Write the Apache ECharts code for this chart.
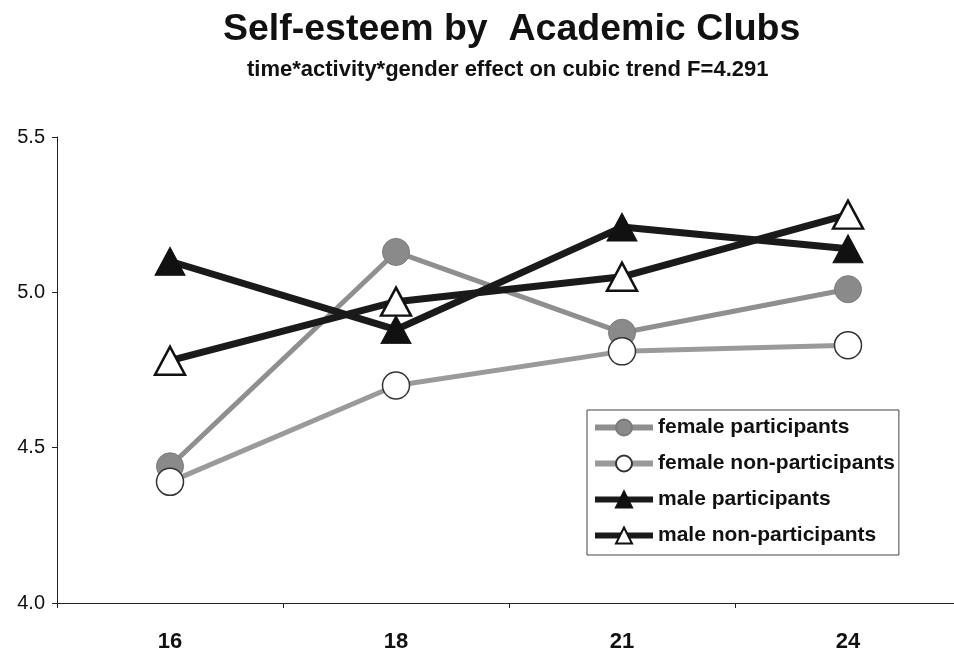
<!DOCTYPE html>
<html>
<head>
<meta charset="utf-8">
<script src="https://cdn.jsdelivr.net/npm/echarts@6/dist/echarts.min.js"></script>
<style>
html,body{margin:0;padding:0;background:#fff;}
#c{width:954px;height:657px;}
</style>
</head>
<body>
<div id="c"></div>
<script>
var categories = ['16', '18', '21', '24'];
var femaleParticipants = [4.44, 5.13, 4.87, 5.01];
var femaleNonParticipants = [4.39, 4.70, 4.81, 4.83];
var maleParticipants = [5.10, 4.88, 5.21, 5.14];
var maleNonParticipants = [4.78, 4.97, 5.05, 5.25];
var yTicks = [4.0, 4.5, 5.0, 5.5];

var chart = echarts.init(document.getElementById('c'), null, {renderer: 'canvas'});
var font = 'Liberation Sans, Arial, sans-serif';

function s(name, data, lineColor, lineWidth, symbol, size, fill, border, bw) {
  return {
    name: name, type: 'line', data: data,
    symbol: symbol, symbolSize: size,
    lineStyle: {color: lineColor, width: lineWidth},
    itemStyle: {color: fill, borderColor: border, borderWidth: bw},
    emphasis: {disabled: true},
    animation: false
  };
}

chart.setOption({
  animation: false,
  backgroundColor: '#ffffff',
  title: [
    {text: 'Self-esteem by  Academic Clubs', left: 218, top: 6,
     textStyle: {fontFamily: font, fontWeight: 'bold', fontSize: 37.5, color: '#111'}},
    {text: 'time*activity*gender effect on cubic trend F=4.291', left: 242, top: 54,
     textStyle: {fontFamily: font, fontWeight: 'bold', fontSize: 22, color: '#111'}}
  ],
  legend: {
    orient: 'vertical', left: 587, top: 410,
    backgroundColor: '#fff', borderColor: '#444', borderWidth: 1,
    padding: [7, 4, 9, 5], itemGap: 15, itemWidth: 58, itemHeight: 20,
    lineStyle: {width: 6},
    textStyle: {fontFamily: font, fontWeight: 'bold', fontSize: 21, color: '#111', lineHeight: 20},
    data: ['female participants', 'female non-participants', 'male participants', 'male non-participants']
  },
  grid: {left: 57, top: 137, width: 904, height: 466, outerBoundsMode: 'none', containLabel: false},
  xAxis: {
    type: 'category', data: categories, boundaryGap: true,
    axisLine: {lineStyle: {color: '#222', width: 1}},
    axisTick: {show: true, length: 5, lineStyle: {color: '#222'}},
    axisLabel: {margin: 28, fontFamily: font, fontWeight: 'bold', fontSize: 22, color: '#111'},
    splitLine: {show: false}
  },
  yAxis: {
    type: 'value', min: 4.0, max: 5.5, interval: 0.5,
    axisLine: {show: true, lineStyle: {color: '#222', width: 1}},
    axisTick: {show: true, length: 5, lineStyle: {color: '#222'}},
    axisLabel: {margin: 12, fontFamily: font, fontSize: 20, color: '#111',
      formatter: function (v) { return v.toFixed(1); }},
    splitLine: {show: false}
  },
  series: [
    s('female participants', femaleParticipants, '#8f8f8f', 5, 'circle', 27, '#8a8a8a', '#7a7a7a', 1),
    s('female non-participants', femaleNonParticipants, '#9a9a9a', 5, 'circle', 27, '#ffffff', '#333', 1.5),
    s('male participants', maleParticipants, '#1a1a1a', 7, 'triangle', [30, 28], '#111', '#111', 1),
    s('male non-participants', maleNonParticipants, '#1a1a1a', 7, 'triangle', [30, 28], '#ffffff', '#111', 2.5)
  ]
});
</script>
</body>
</html>
